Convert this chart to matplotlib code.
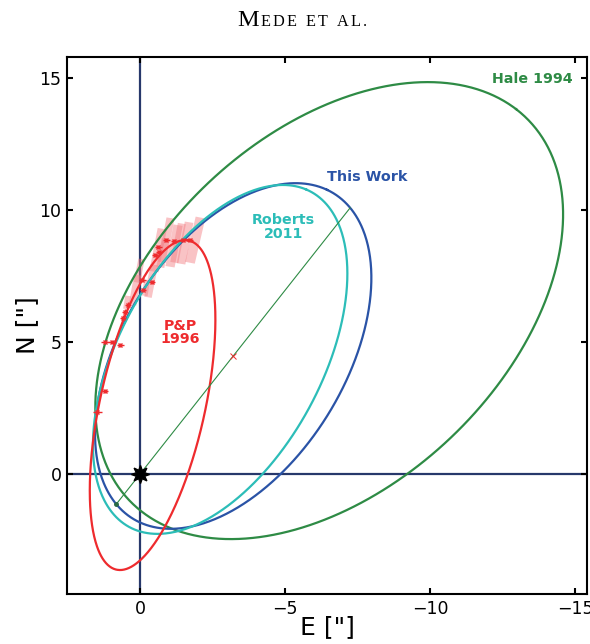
import numpy as np
import matplotlib
matplotlib.use("Agg")
import matplotlib.pyplot as plt
from matplotlib.patches import Rectangle

# ---------------- data ----------------
orbit_names = ["Hale 1994", "This Work", "Roberts 2011", "P&P 1996"]
orbit_xc = [-6.52, -3.21, -2.76, -0.43]
orbit_yc = [6.19, 4.47, 4.34, 2.61]
orbit_a = [9.99, 7.08, 7.09, 6.36]
orbit_b = [6.34, 3.93, 3.56, 1.82]
orbit_ang = [130.2, 117.2, 114.7, 101.1]
orbit_colors = ["#2e8b45", "#2a53a6", "#2cbdb8", "#ee2b2e"]

# astrometric points (E, N) in arcsec
pt_x = [1.48, 1.21, 1.21, 0.97, 0.69, 0.59, 0.52, 0.41, -0.07, -0.10, -0.41,
        -0.52, -0.62, -0.66, -0.90, -1.17, -1.48, -1.72]
pt_y = [2.35, 3.14, 5.00, 5.00, 4.89, 5.91, 6.14, 6.40, 7.35, 6.97, 7.27,
        8.30, 8.60, 8.41, 8.86, 8.83, 8.86, 8.86]
pt_xerr = [0.15, 0.12, 0.15, 0.15, 0.12, 0.1, 0.1, 0.1, 0.12, 0.1, 0.1,
           0.1, 0.12, 0.1, 0.12, 0.12, 0.12, 0.12]
pt_yerr = [0.1, 0.08, 0.08, 0.08, 0.08, 0.1, 0.1, 0.1, 0.08, 0.08, 0.08,
           0.08, 0.08, 0.08, 0.08, 0.08, 0.08, 0.08]

# uncertainty boxes (center E, center N, width, height, tilt deg)
box_x = [0.17, -0.38, -0.62, -0.90, -1.17, -1.31, -1.90, -0.79, 0.45, -0.20, 0.03, -1.55]
box_y = [6.97, 7.31, 8.48, 8.86, 8.64, 8.75, 8.86, 8.37, 6.50, 7.05, 7.70, 8.75]
box_w = [0.26, 0.26, 0.32, 0.28, 0.32, 0.28, 0.34, 0.28, 0.2, 0.2, 0.22, 0.3]
box_h = [1.15, 1.25, 1.65, 1.7, 1.6, 1.5, 1.75, 1.1, 0.5, 0.6, 0.9, 1.6]
box_tilt = [9, 10, 10, 10, 10, 10, 12, 10, 8, 8, 10, 10]

xticks = [0, -5, -10, -15]
yticks = [0, 5, 10, 15]

# ---------------- figure ----------------
fig = plt.figure(figsize=(5.90, 6.44), dpi=100)
ax = fig.add_axes([0.1136, 0.0776, 0.8814, 0.8339])

def ellipse(xc, yc, a, b, ang, n=600):
    t = np.linspace(0, 2 * np.pi, n)
    p = np.deg2rad(ang)
    x = xc + a * np.cos(t) * np.cos(p) - b * np.sin(t) * np.sin(p)
    y = yc + a * np.cos(t) * np.sin(p) + b * np.sin(t) * np.cos(p)
    return x, y

# axes cross
ax.axvline(0, color="#27386b", lw=1.6, zorder=1)
ax.axhline(0, color="#27386b", lw=1.6, zorder=1)

# boxes
for cx, cy, w, h, tl in zip(box_x, box_y, box_w, box_h, box_tilt):
    r = Rectangle((cx - w / 2, cy - h / 2), w, h, angle=tl, rotation_point="center",
                  facecolor="#f27a80", edgecolor="none", alpha=0.45, zorder=2)
    ax.add_patch(r)

# orbits
for xc, yc, a, b, ang, c in zip(orbit_xc, orbit_yc, orbit_a, orbit_b, orbit_ang, orbit_colors):
    ex, ey = ellipse(xc, yc, a, b, ang)
    ax.plot(ex, ey, color=c, lw=1.6, zorder=3)

# line of apsides for this work: through star and ellipse center
xc, yc, a, b, ang = orbit_xc[1], orbit_yc[1], orbit_a[1], orbit_b[1], orbit_ang[1]
d = np.array([xc, yc]) / np.hypot(xc, yc)
p = np.deg2rad(ang)
R = np.array([[np.cos(p), -np.sin(p)], [np.sin(p), np.cos(p)]])
dl = R.T @ d
cl = R.T @ np.array([-xc, -yc])
A = (dl[0] / a) ** 2 + (dl[1] / b) ** 2
B = 2 * (dl[0] * cl[0] / a ** 2 + dl[1] * cl[1] / b ** 2)
C = (cl[0] / a) ** 2 + (cl[1] / b) ** 2 - 1
s1 = (-B - np.sqrt(B * B - 4 * A * C)) / (2 * A)
s2 = (-B + np.sqrt(B * B - 4 * A * C)) / (2 * A)
ax.plot([s1 * d[0], s2 * d[0]], [s1 * d[1], s2 * d[1]], color="#2e8b45", lw=0.8, zorder=4)
ax.plot([s1 * d[0]], [s1 * d[1]], marker="o", ms=2.5, color="#2a6b45", zorder=5)
ax.plot([xc], [yc], marker="x", ms=5, mew=0.7, color="#ee2b2e", zorder=5)

# data points
ax.errorbar(pt_x, pt_y, xerr=pt_xerr, yerr=pt_yerr, fmt="x", ms=3, mew=1.0,
            color="#ee2b2e", ecolor="#ee2b2e", elinewidth=1.0, capsize=0, zorder=6)

# star
ax.plot([0], [0], marker=(8, 1, 0), ms=13, color="black", zorder=7)

# labels
ax.text(-13.53, 14.95, "Hale 1994", color="#2e8b45", fontsize=10.3, fontweight="bold",
        ha="center", va="center")
ax.text(-7.83, 11.25, "This Work", color="#2a53a6", fontsize=10.3, fontweight="bold",
        ha="center", va="center")
ax.text(-4.93, 9.35, "Roberts\n2011", color="#2cbdb8", fontsize=10.3, fontweight="bold",
        ha="center", va="center", linespacing=0.95)
ax.text(-1.38, 5.35, "P&P\n1996", color="#ee2b2e", fontsize=10.3, fontweight="bold",
        ha="center", va="center", linespacing=0.95)

ax.set_xlim(2.52, -15.41)
ax.set_ylim(-4.55, 15.80)
ax.set_xticks(xticks)
ax.set_yticks(yticks)
ax.tick_params(direction="in", length=4, width=1.5, labelsize=12.5,
               top=True, right=True, pad=4)
for sp in ax.spines.values():
    sp.set_linewidth(1.5)
ax.set_xlabel('E ["]', fontsize=18, labelpad=-2)
ax.set_ylabel('N ["]', fontsize=18, labelpad=0)

# header in small caps, placed character by character
W, H = 590, 644
renderer = fig.canvas.get_renderer()
base_y = 1 - 26 / H
tm = fig.text(237 / W, base_y, "M", fontsize=17.5, family="Liberation Serif",
              ha="left", va="baseline")
x_px = tm.get_window_extent(renderer).x1 + 1.5
for ch in "EDE ET AL.":
    if ch == " ":
        x_px += 6.5
        continue
    t = fig.text(x_px / W, base_y, ch, fontsize=11.7, family="Liberation Serif",
                 ha="left", va="baseline")
    x_px = t.get_window_extent(renderer).x1 + 2.4

fig.savefig("out.png", dpi=100)
